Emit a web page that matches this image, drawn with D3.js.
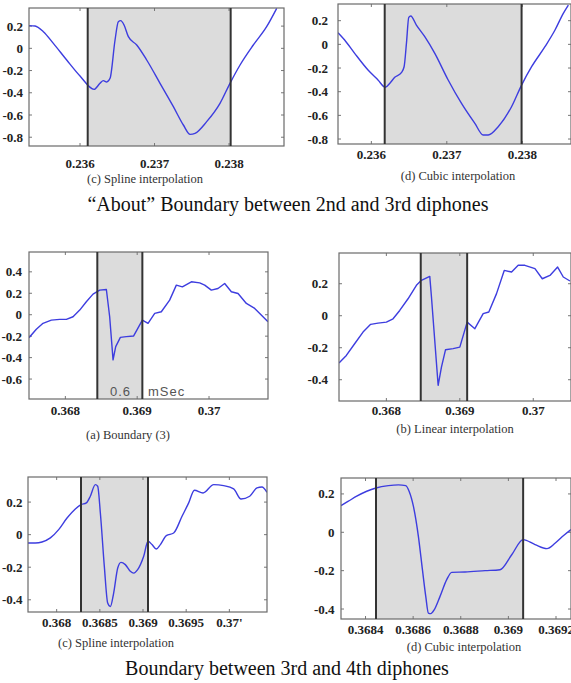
<!DOCTYPE html>
<html>
<head>
<meta charset="utf-8">
<script src="https://cdn.jsdelivr.net/npm/d3@7"></script>
<style>
  html, body { margin: 0; padding: 0; background: #fff; }
  svg { display: block; }
</style>
</head>
<body>
<svg id="chart" width="571" height="683"></svg>
<script>
// "About" boundary, 2nd/3rd diphones
const p1X = [0.235315,0.235396,0.235508,0.235642,0.235821,0.236000,0.236188,0.236268,0.236313,0.236358,0.236403,0.236470,0.236514,0.236546,0.236591,0.236649,0.236761,0.236895,0.237074,0.237253,0.237387,0.237477,0.237544,0.237700,0.237879,0.238013,0.238148,0.238326,0.238505,0.238640];
const p1Y = [0.204,0.201,0.150,0.045,-0.105,-0.249,-0.369,-0.315,-0.291,-0.303,-0.270,0.075,0.240,0.249,0.210,0.105,0.030,-0.105,-0.315,-0.525,-0.690,-0.774,-0.765,-0.660,-0.495,-0.315,-0.150,0.030,0.195,0.360];

const p2X = [0.235558,0.235646,0.235779,0.235956,0.236088,0.236186,0.236243,0.236310,0.236398,0.236434,0.236465,0.236496,0.236522,0.236597,0.236708,0.236841,0.237018,0.237195,0.237372,0.237482,0.237549,0.237681,0.237858,0.237991,0.238124,0.238301,0.238434,0.238544,0.238611];
const p2Y = [0.099,0.037,-0.076,-0.217,-0.301,-0.363,-0.330,-0.279,-0.239,-0.189,0.008,0.228,0.239,0.163,0.065,-0.076,-0.301,-0.499,-0.668,-0.766,-0.766,-0.696,-0.527,-0.344,-0.189,-0.020,0.121,0.262,0.332];

// boundary between 3rd and 4th diphones
const p3X = [0.367494,0.367596,0.367689,0.367805,0.367921,0.368014,0.368107,0.368200,0.368292,0.368385,0.368478,0.368571,0.368617,0.368664,0.368701,0.368766,0.368849,0.368951,0.369072,0.369151,0.369244,0.369336,0.369452,0.369545,0.369629,0.369754,0.369870,0.369940,0.370032,0.370125,0.370218,0.370311,0.370404,0.370520,0.370636,0.370821];
const p3Y = [-0.214,-0.136,-0.080,-0.050,-0.043,-0.043,-0.019,0.043,0.121,0.192,0.229,0.235,-0.019,-0.421,-0.297,-0.211,-0.204,-0.198,-0.050,-0.080,0.012,0.028,0.136,0.276,0.260,0.307,0.297,0.276,0.229,0.245,0.291,0.214,0.198,0.105,0.059,-0.065];

const p4X = [0.367355,0.367455,0.367568,0.367682,0.367786,0.367886,0.368000,0.368091,0.368182,0.368295,0.368409,0.368477,0.368591,0.368614,0.368705,0.368750,0.368805,0.368909,0.369000,0.369100,0.369205,0.369318,0.369395,0.369500,0.369605,0.369705,0.369795,0.369886,0.370023,0.370123,0.370227,0.370332,0.370409,0.370500];
const p4Y = [-0.296,-0.248,-0.175,-0.102,-0.054,-0.046,-0.040,-0.019,0.033,0.106,0.190,0.221,0.246,0.117,-0.435,-0.321,-0.213,-0.206,-0.196,-0.040,-0.081,0.013,0.023,0.138,0.283,0.273,0.315,0.315,0.294,0.231,0.252,0.304,0.242,0.217];

const p5X = [0.367668,0.367753,0.367830,0.367927,0.368023,0.368120,0.368216,0.368282,0.368344,0.368390,0.368448,0.368475,0.368506,0.368552,0.368591,0.368622,0.368660,0.368707,0.368745,0.368795,0.368853,0.368892,0.368938,0.369008,0.369058,0.369104,0.369154,0.369201,0.369270,0.369355,0.369452,0.369529,0.369595,0.369695,0.369819,0.369934,0.370050,0.370135,0.370236,0.370320,0.370378,0.370436];
const p5Y = [-0.051,-0.051,-0.045,-0.020,0.031,0.102,0.158,0.184,0.195,0.236,0.307,0.297,0.133,-0.195,-0.420,-0.441,-0.359,-0.205,-0.170,-0.184,-0.225,-0.236,-0.215,-0.133,-0.041,-0.061,-0.088,-0.061,-0.006,0.010,0.113,0.195,0.273,0.256,0.307,0.301,0.281,0.219,0.236,0.287,0.293,0.260];

const p6X = [0.368297,0.368328,0.368363,0.368405,0.368444,0.368496,0.368538,0.368569,0.368583,0.368601,0.368622,0.368639,0.368653,0.368664,0.368674,0.368689,0.368713,0.368741,0.368762,0.368818,0.368902,0.368965,0.369014,0.369062,0.369112,0.369162,0.369197,0.369232,0.369263];
const p6Y = [0.139,0.162,0.188,0.214,0.231,0.243,0.247,0.243,0.214,0.136,-0.021,-0.195,-0.334,-0.421,-0.424,-0.403,-0.334,-0.247,-0.209,-0.207,-0.200,-0.195,-0.117,-0.038,-0.064,-0.085,-0.056,-0.017,0.014];

// shaded boundary regions
const p1Bounds = [0.236103, 0.238022];
const p2Bounds = [0.236177, 0.237991];
const p3Bounds = [0.368445, 0.369072];
const p4Bounds = [0.368468, 0.369100];
const p5Bounds = [0.368282, 0.369058];
const p6Bounds = [0.368444, 0.369062];

// tick values and labels
const yTicksA = [0.2, 0, -0.2, -0.4, -0.6, -0.8];
const xTicksA = [0.236, 0.237, 0.238];
const yTicks3 = [0.4, 0.2, 0, -0.2, -0.4, -0.6];
const yTicksB = [0.2, 0, -0.2, -0.4];
const xTicksB = [0.368, 0.369, 0.37];
const xTicks5 = [0.368, 0.3685, 0.369, 0.3695, 0.37];
const xLabels5 = ['0.368', '0.3685', '0.369', '0.3695', '0.37\''];
const xTicks6 = [0.3684, 0.3686, 0.3688, 0.369, 0.3692];

const captions = ['(c) Spline interpolation', '(d) Cubic interpolation', '(a) Boundary (3)',
    '(b) Linear interpolation', '(c) Spline interpolation', '(d) Cubic interpolation'];
const titles = ['\u201CAbout\u201D Boundary between 2nd and 3rd diphones', 'Boundary between 3rd and 4th diphones'];

const svg = d3.select('#chart');
const serif = '"Liberation Serif", "Times New Roman", serif';
const lineColor = '#3d3ddf';

const fmt = d => d === 0 ? '0' : String(+d.toFixed(4));

function drawPanel(id, cfg) {
    const x = d3.scaleLinear().domain(cfg.xDomain).range([cfg.box[0], cfg.box[2]]);
    const y = d3.scaleLinear().domain(cfg.yDomain).range([cfg.box[3], cfg.box[1]]);
    const g = svg.append('g');

    g.append('clipPath').attr('id', 'clip' + id)
        .append('rect')
        .attr('x', cfg.box[0]).attr('y', cfg.box[1])
        .attr('width', cfg.box[2] - cfg.box[0]).attr('height', cfg.box[3] - cfg.box[1]);

    // shaded boundary
    g.append('rect')
        .attr('x', x(cfg.bounds[0]))
        .attr('y', cfg.box[1])
        .attr('width', x(cfg.bounds[1]) - x(cfg.bounds[0]))
        .attr('height', cfg.box[3] - cfg.box[1])
        .style('fill', '#dcdcdc');

    // inward ticks, mirrored on all sides
    const tk = g.append('g').style('stroke', '#777').style('stroke-width', 1);
    cfg.xTicks.forEach(v => {
        tk.append('line').attr('x1', x(v)).attr('x2', x(v)).attr('y1', cfg.box[3]).attr('y2', cfg.box[3] - 3);
        tk.append('line').attr('x1', x(v)).attr('x2', x(v)).attr('y1', cfg.box[1]).attr('y2', cfg.box[1] + 3);
    });
    cfg.yTicks.forEach(v => {
        tk.append('line').attr('y1', y(v)).attr('y2', y(v)).attr('x1', cfg.box[0]).attr('x2', cfg.box[0] + 3);
        tk.append('line').attr('y1', y(v)).attr('y2', y(v)).attr('x1', cfg.box[2]).attr('x2', cfg.box[2] - 3);
    });

    // signal
    const pts = cfg.xs.map((v, i) => [v, cfg.ys[i]]);
    g.append('path')
        .datum(pts)
        .attr('clip-path', `url(#clip${id})`)
        .attr('d', d3.line().x(d => x(d[0])).y(d => y(d[1])).curve(cfg.curve))
        .style('fill', 'none')
        .style('stroke', lineColor)
        .style('stroke-width', 1.4)
        .style('stroke-linejoin', 'round');

    // box
    g.append('rect')
        .attr('x', cfg.box[0]).attr('y', cfg.box[1])
        .attr('width', cfg.box[2] - cfg.box[0]).attr('height', cfg.box[3] - cfg.box[1])
        .style('fill', 'none').style('stroke', '#6a6a6a').style('stroke-width', 1.2);

    // boundary lines
    g.selectAll('line.bound')
        .data(cfg.bounds)
        .enter()
        .append('line')
        .attr('class', 'bound')
        .attr('x1', d => x(d)).attr('x2', d => x(d))
        .attr('y1', cfg.box[1]).attr('y2', cfg.box[3])
        .style('stroke', '#333').style('stroke-width', 2);

    // tick labels
    g.selectAll('text.xl')
        .data(cfg.xTicks)
        .enter()
        .append('text')
        .attr('x', d => x(d))
        .attr('y', cfg.box[3] + cfg.xGap)
        .attr('text-anchor', 'middle')
        .attr('dominant-baseline', 'central')
        .style('font', `bold 13px ${serif}`)
        .style('fill', '#222')
        .text((d, i) => cfg.xLabels ? cfg.xLabels[i] : fmt(d));

    g.selectAll('text.yl')
        .data(cfg.yTicks)
        .enter()
        .append('text')
        .attr('x', cfg.box[0] - cfg.yGap)
        .attr('y', d => y(d))
        .attr('text-anchor', 'end')
        .attr('dominant-baseline', 'central')
        .style('font', `bold 13px ${serif}`)
        .style('fill', '#222')
        .text(fmt);

    g.append('text')
        .attr('x', cfg.cap[0]).attr('y', cfg.cap[1])
        .attr('text-anchor', 'middle')
        .attr('dominant-baseline', 'central')
        .style('font', `12.5px ${serif}`)
        .style('fill', '#333')
        .text(cfg.caption);

    return {x, y, g};
}

drawPanel(1, {box: [29, 8, 284, 146], xDomain: [0.235315, 0.238738], yDomain: [-0.879, 0.363],
    xs: p1X, ys: p1Y, bounds: p1Bounds, xTicks: xTicksA, yTicks: yTicksA, xGap: 17, yGap: 6,
    curve: d3.curveMonotoneX, caption: captions[0], cap: [145, 179]});

drawPanel(2, {box: [338, 4, 571, 144], xDomain: [0.235558, 0.238646], yDomain: [-0.842, 0.341],
    xs: p2X, ys: p2Y, bounds: p2Bounds, xTicks: xTicksA, yTicks: yTicksA, xGap: 10, yGap: 10,
    curve: d3.curveMonotoneX, caption: captions[1], cap: [458, 176]});

const p3 = drawPanel(3, {box: [29, 252, 268, 399], xDomain: [0.367494, 0.370821], yDomain: [-0.786, 0.585],
    xs: p3X, ys: p3Y, bounds: p3Bounds, xTicks: xTicksB, yTicks: yTicks3, xGap: 11, yGap: 7,
    curve: d3.curveLinear, caption: captions[2], cap: [128, 435]});

drawPanel(4, {box: [339, 253, 571, 401], xDomain: [0.367355, 0.370514], yDomain: [-0.533, 0.392],
    xs: p4X, ys: p4Y, bounds: p4Bounds, xTicks: xTicksB, yTicks: yTicksB, xGap: 9.5, yGap: 11,
    curve: d3.curveLinear, caption: captions[3], cap: [455, 429]});

drawPanel(5, {box: [28, 477, 267, 612], xDomain: [0.367668, 0.370436], yDomain: [-0.475, 0.354],
    xs: p5X, ys: p5Y, bounds: p5Bounds, xTicks: xTicks5, xLabels: xLabels5, yTicks: yTicksB, xGap: 10, yGap: 5.5,
    curve: d3.curveMonotoneX, caption: captions[4], cap: [116, 643]});

drawPanel(6, {box: [341, 478, 571, 619], xDomain: [0.368297, 0.369263], yDomain: [-0.452, 0.283],
    xs: p6X, ys: p6Y, bounds: p6Bounds, xTicks: xTicks6, yTicks: yTicksB, xGap: 10, yGap: 6.5,
    curve: d3.curveMonotoneX, caption: captions[5], cap: [464, 647]});

// duration note inside boundary (3)
p3.g.append('text')
    .attr('x', 110).attr('y', 391)
    .attr('dominant-baseline', 'central')
    .style('font', '13px "Liberation Sans", Arial, sans-serif')
    .style('letter-spacing', '1px')
    .style('fill', '#555')
    .text('0.6');
p3.g.append('text')
    .attr('x', 148).attr('y', 391)
    .attr('dominant-baseline', 'central')
    .style('font', '13px "Liberation Sans", Arial, sans-serif')
    .style('letter-spacing', '1px')
    .style('fill', '#555')
    .text('mSec');

svg.selectAll('text.title')
    .data(titles)
    .enter()
    .append('text')
    .attr('class', 'title')
    .attr('x', (d, i) => i === 0 ? 288 : 287)
    .attr('y', (d, i) => i === 0 ? 204 : 668)
    .attr('text-anchor', 'middle')
    .attr('dominant-baseline', 'central')
    .style('font', `20px ${serif}`)
    .style('fill', '#111')
    .text(d => d);
</script>
</body>
</html>
